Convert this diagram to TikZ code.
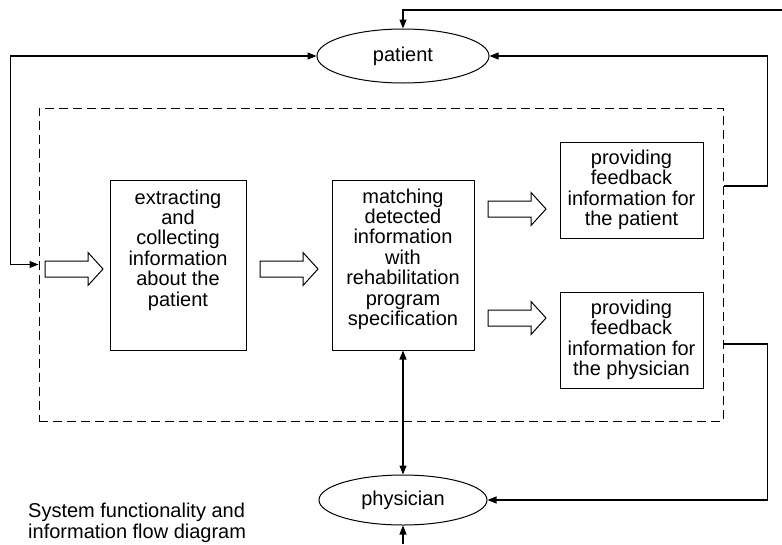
\documentclass[tikz,border=0pt]{standalone}
\usepackage{fontspec}
\setmainfont{Liberation Sans}
\usetikzlibrary{arrows.meta,shapes.geometric,calc}
\tikzset{
  wire/.style={line width=1.1pt},
  arrowtip/.style={-{Triangle[length=9pt,width=7pt]}},
  arrowboth/.style={{Triangle[length=9pt,width=7pt]}-{Triangle[length=9pt,width=7pt]}},
  box/.style={draw, rectangle, line width=1pt, inner sep=0pt},
  boxtext/.style={anchor=north, align=center, inner sep=0pt},
  actor/.style={draw, ellipse, line width=1pt, inner sep=0pt},
  dashframe/.style={draw, dash pattern=on 9pt off 5pt, line width=1pt, inner sep=0pt},
  blockarrow/.pic={\draw[line width=1pt] (0,-8) -- (43,-8) -- (43,-16.5) -- (58,0)
                   -- (43,16.5) -- (43,8) -- (0,8) -- cycle;}
}
\begin{document}
\begin{tikzpicture}[x=1pt,y=-1pt,font=\fontsize{20}{20.4}\selectfont]
  \useasboundingbox (0,0) rectangle (782,544);

  % system boundary
  \node[dashframe, minimum width=684pt, minimum height=313pt] (frame) at (381,264.5) {};

  % actors
  \node[actor, minimum width=172pt, minimum height=54pt] (patient) at (403,56) {patient};
  \node[actor, minimum width=168pt, minimum height=50pt] (physician) at (403,500) {physician};

  % processing steps
  \node[box, minimum width=136pt, minimum height=170pt] (collect) at (178,265) {};
  \node[boxtext] (collecttxt) at ([yshift=-10pt]collect.north)
    {extracting\\and\\collecting\\information\\about the\\patient};
  \node[box, minimum width=142pt, minimum height=170pt] (match) at (403,265) {};
  \node[boxtext] (matchtxt) at ([yshift=-9pt]match.north)
    {matching\\detected\\information\\with\\rehabilitation\\program\\specification};
  \node[box, align=center, minimum width=143pt, minimum height=96pt] (fbpat) at (631.5,190)
    {providing\\feedback\\information for\\the patient};
  \node[box, align=center, minimum width=143pt, minimum height=96pt] (fbphy) at (631.5,340)
    {providing\\feedback\\information for\\the physician};

  % block arrows of the internal flow
  \pic at (45,269) {blockarrow};
  \pic at (260,269) {blockarrow};
  \pic at (488,209) {blockarrow};
  \pic at (488,318) {blockarrow};

  % caption
  \node[anchor=north west, align=left, inner sep=0pt] (caption) at (28,503)
    {System functionality and\\information flow diagram};

  % external connectors
  \coordinate (topin) at (782,10);
  \coordinate (bottomin) at (403,544);
  \coordinate (patout) at ($(frame.east |- fbpat.east)+(0,-4)$);
  \coordinate (phyout) at ($(frame.east |- fbphy.east)+(0,4)$);

  \draw[wire,arrowtip] (topin) -| (patient.north);
  \draw[wire,arrowtip] (patout) -| ($(frame.east |- patient.east)+(44,0)$) -- (patient.east);
  \draw[wire,arrowtip] (phyout) -| ($(frame.east |- physician.east)+(44,0)$) -- (physician.east);
  \draw[wire,arrowboth] (patient.west) -| ($(frame.west)+(-28,0)$) -- (frame.west);
  \draw[wire,arrowboth] (match.south) -- (physician.north);
  \draw[wire,arrowtip] (bottomin) -- (physician.south);
\end{tikzpicture}
\end{document}
